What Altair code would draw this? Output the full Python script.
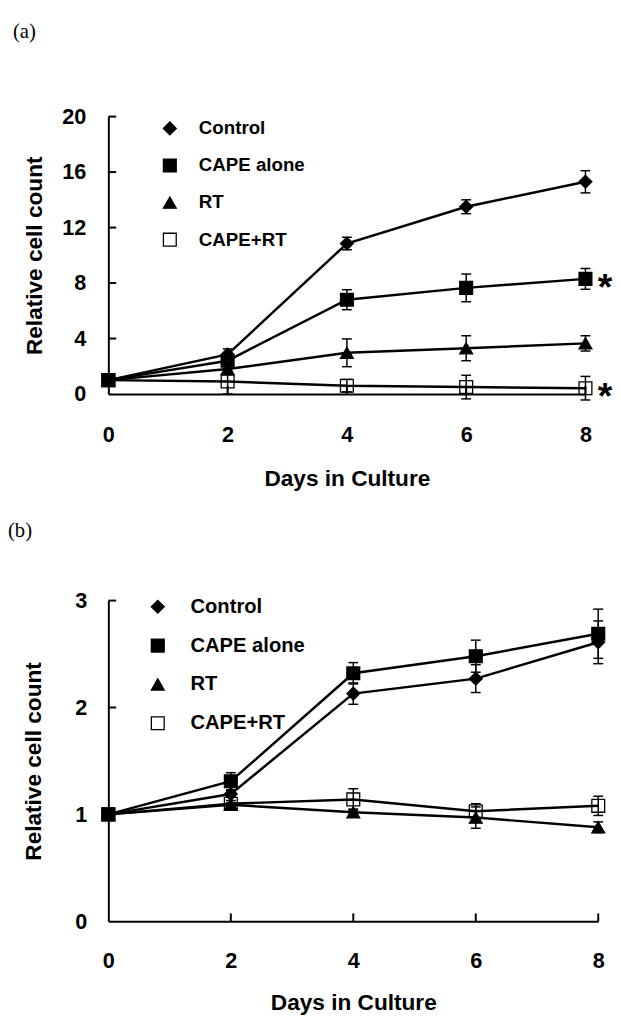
import altair as alt
import pandas as pd

# ---------------- data ----------------
days = [0, 2, 4, 6, 8]
series_names = ["Control", "CAPE alone", "RT", "CAPE+RT"]

# panel (a)
a_control = [1.0, 2.85, 10.85, 13.5, 15.3]
a_control_err = [0.0, 0.4, 0.45, 0.5, 0.8]
a_cape = [1.0, 2.4, 6.8, 7.65, 8.3]
a_cape_err = [0.0, 0.3, 0.72, 1.0, 0.75]
a_rt = [1.0, 1.8, 2.97, 3.3, 3.65]
a_rt_err = [0.0, 0.2, 1.0, 0.9, 0.55]
a_capert = [1.0, 0.9, 0.6, 0.5, 0.42]
a_capert_err = [0.0, 0.9, 0.45, 0.85, 0.85]
a_yticks = [0, 4, 8, 12, 16, 20]
a_star_series = ["CAPE alone", "CAPE+RT"]

# panel (b)
b_control = [1.0, 1.19, 2.13, 2.27, 2.61]
b_control_err = [0.0, 0.03, 0.1, 0.13, 0.2]
b_cape = [1.0, 1.31, 2.32, 2.48, 2.69]
b_cape_err = [0.0, 0.08, 0.1, 0.15, 0.23]
b_rt = [1.0, 1.09, 1.02, 0.97, 0.88]
b_rt_err = [0.0, 0.02, 0.03, 0.1, 0.05]
b_capert = [1.0, 1.1, 1.14, 1.03, 1.08]
b_capert_err = [0.0, 0.03, 0.1, 0.07, 0.09]
b_yticks = [0, 1, 2, 3]
b_star_series = []

x_title = "Days in Culture"
y_title = "Relative cell count"

FONT = "Liberation Sans"
SERIF = "Liberation Serif"


def long_df(vals, errs):
    rows = []
    for name, v, e in zip(series_names, vals, errs):
        for d, y, s in zip(days, v, e):
            rows.append({"day": d, "value": y, "err": s, "series": name,
                         "lo": y - s, "hi": y + s})
    return pd.DataFrame(rows)


shape_scale = alt.Scale(domain=series_names,
                        range=["diamond", "square", "triangle-up", "square"])
fill_scale = alt.Scale(domain=series_names,
                       range=["black", "black", "black", "transparent"])
stroke_scale = alt.Scale(domain=series_names,
                         range=["black", "black", "black", "black"])


def panel(tag, df, yticks, W, H, xlp, xtp, ylp, ytp, leg, tagx, tagy, stars):
    ymax = yticks[-1]
    xs = alt.Scale(domain=[0, 8], nice=False, zero=False)
    ys = alt.Scale(domain=[0, ymax], nice=False, zero=False)
    x_ax = alt.Axis(values=days, format="d", ticks=False, tickSize=0, grid=False,
                    domainColor="black", domainWidth=2,
                    labelFont=FONT, labelFontSize=22, labelFontWeight="bold",
                    labelColor="black", labelPadding=xlp, labelFlush=False,
                    title=x_title, titleFont=FONT, titleFontSize=23,
                    titleFontWeight="bold", titleColor="black", titlePadding=xtp)
    y_ax = alt.Axis(values=yticks, format="d", ticks=False, tickSize=0, grid=False,
                    domainColor="black", domainWidth=2,
                    labelFont=FONT, labelFontSize=22, labelFontWeight="bold",
                    labelColor="black", labelPadding=ylp, labelFlush=False,
                    title=y_title, titleFont=FONT, titleFontSize=23,
                    titleFontWeight="bold", titleColor="black", titlePadding=ytp)

    def X(f):
        return alt.X(f, scale=xs, axis=x_ax)

    def Y(f):
        return alt.Y(f, scale=ys, axis=y_ax)

    legend = alt.Legend(orient="none", legendX=leg["x"], legendY=leg["y"], title=None,
                        padding=0, labelFont=FONT, labelFontSize=leg["fs"],
                        labelFontWeight="bold", labelColor="black",
                        labelOffset=leg["off"], rowPadding=leg["rp"],
                        symbolSize=170, symbolStrokeWidth=1.3)

    err_df = df[df["err"] > 0]
    lines = alt.Chart(df).mark_line(color="black", strokeWidth=2.5).encode(
        x=X("day:Q"), y=Y("value:Q"), detail="series:N")
    rules = alt.Chart(err_df).mark_rule(color="black", strokeWidth=1.5).encode(
        x=X("day:Q"), y=Y("lo:Q"), y2="hi:Q")
    cap_lo = alt.Chart(err_df).mark_tick(color="black", thickness=1.5, size=10,
                                         orient="horizontal", opacity=1).encode(
        x=X("day:Q"), y=Y("lo:Q"))
    cap_hi = alt.Chart(err_df).mark_tick(color="black", thickness=1.5, size=10,
                                         orient="horizontal", opacity=1).encode(
        x=X("day:Q"), y=Y("hi:Q"))
    points = alt.Chart(df).mark_point(filled=True, size=170, strokeWidth=1.3,
                                      opacity=1).encode(
        x=X("day:Q"), y=Y("value:Q"),
        shape=alt.Shape("series:N", scale=shape_scale, legend=legend),
        fill=alt.Fill("series:N", scale=fill_scale, legend=legend),
        stroke=alt.Stroke("series:N", scale=stroke_scale, legend=legend),
    )
    ytick_rules = alt.Chart(pd.DataFrame({"value": yticks[1:]})).mark_rule(
        color="black", strokeWidth=2).encode(
        y=Y("value:Q"), x=alt.value(0), x2=alt.value(8))
    xtick_rules = alt.Chart(pd.DataFrame({"day": days[1:]})).mark_rule(
        color="black", strokeWidth=2).encode(
        x=X("day:Q"), y=alt.value(H), y2=alt.value(H - 8))
    tag_text = alt.Chart(pd.DataFrame({"t": [tag]})).mark_text(
        align="left", baseline="middle", font=SERIF, fontSize=21,
        color="black").encode(x=alt.value(tagx), y=alt.value(tagy), text="t:N")

    layers = [lines, rules, cap_lo, cap_hi, points, ytick_rules, xtick_rules, tag_text]
    if stars:
        star_df = df[(df["day"] == 8) & (df["series"].isin(stars))]
        star_text = alt.Chart(star_df).mark_text(
            text="*", font=FONT, fontSize=38, fontWeight="bold", color="black",
            align="center", baseline="alphabetic", dx=20, dy=21).encode(
            x=X("day:Q"), y=Y("value:Q"))
        layers.append(star_text)
    return alt.layer(*layers).properties(width=W, height=H)


df_a = long_df([a_control, a_cape, a_rt, a_capert],
               [a_control_err, a_cape_err, a_rt_err, a_capert_err])
df_b = long_df([b_control, b_cape, b_rt, b_capert],
               [b_control_err, b_cape_err, b_rt_err, b_capert_err])

pa = panel("(a)", df_a, a_yticks, 485, 282, xlp=31, xtp=23, ylp=23, ytp=15,
           leg={"x": 53, "y": 2.5, "fs": 19, "off": 20, "rp": 17.7},
           tagx=-97, tagy=-86, stars=a_star_series)
pb = panel("(b)", df_b, b_yticks, 498, 326, xlp=30, xtp=21, ylp=22, ytp=30,
           leg={"x": 40, "y": -4, "fs": 20.5, "off": 23, "rp": 18.5},
           tagx=-102, tagy=-70.5, stars=b_star_series)

chart = alt.concat(pa, pb, columns=1, spacing=30, align="none").resolve_scale(
    x="independent", y="independent", shape="independent", fill="independent",
    stroke="independent"
).resolve_legend(shape="independent", fill="independent",
                 stroke="independent").properties(
    padding={"left": 0, "top": 5, "right": 0, "bottom": 0}
).configure_view(stroke=None)

chart.save("out.html", embed_options={"renderer": "svg", "actions": False})
